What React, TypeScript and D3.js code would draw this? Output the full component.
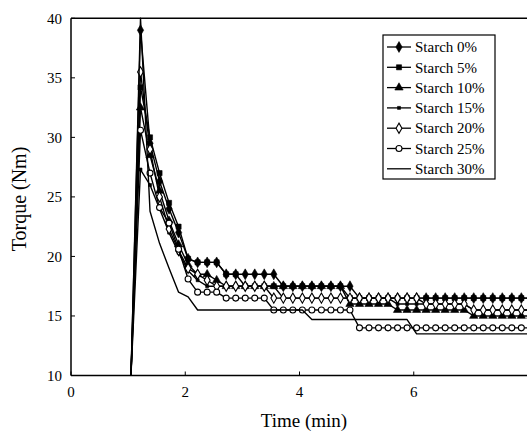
import React from "react";
import * as d3 from "d3";

const W = 527;
const H = 431;

// sampling times (s) — every 10 s from the start of loading
const TIME_S = [63, 73, 83, 93, 103, 113, 123, 133, 143, 153, 163, 173, 183, 193, 203, 213, 223, 233, 243, 253, 263, 273, 283, 293, 303, 313, 323, 333, 343, 353, 363, 373, 383, 393, 403, 413, 423, 433, 443, 453, 463, 473, 483];

const S0 = [10, 39, 29.5, 26.3, 24, 22, 19.8, 19.5, 19.5, 19.5, 18.5, 18.5, 18.5, 18.5, 18.5, 18.5, 17.5, 17.5, 17.5, 17.5, 17.5, 17.5, 17.5, 17.5, 16.5, 16.5, 16.5, 16.5, 16.5, 16.5, 16.5, 16.5, 16.5, 16.5, 16.5, 16.5, 16.5, 16.5, 16.5, 16.5, 16.5, 16.5, 16.5];
const S5 = [10, 34.2, 30.0, 27.0, 24.5, 22.5, 19.8, 19.5, 19.5, 19.5, 18.5, 18.5, 17.5, 17.5, 17.5, 17.5, 17.5, 17.5, 17.5, 17.5, 17.5, 17.5, 17.5, 16.5, 16.5, 16.5, 16.5, 16.5, 16.5, 16.5, 16.5, 16.5, 16.5, 16.5, 16.5, 16.5, 16.5, 16.5, 16.5, 16.5, 16.5, 16.5, 16.5];
const S10 = [10, 32.5, 28.5, 25.5, 23.0, 21.0, 19.3, 18.5, 18.5, 18.0, 17.5, 17.5, 17.5, 17.5, 17.5, 17.5, 17.5, 17.5, 17.5, 17.5, 17.5, 17.5, 17.5, 16.0, 16.0, 16.0, 16.0, 16.0, 15.5, 15.5, 15.5, 15.5, 15.5, 15.5, 15.5, 15.5, 15.0, 15.0, 15.0, 15.0, 15.0, 15.0, 15.0];
const S15 = [10, 27.3, 26.0, 24.0, 22.0, 20.3, 18.8, 18.0, 17.5, 17.5, 17.5, 17.5, 17.5, 17.5, 17.5, 17.5, 16.5, 16.5, 16.5, 16.5, 16.5, 16.5, 16.5, 16.5, 16.5, 16.5, 16.5, 16.5, 16.0, 16.0, 16.0, 16.0, 16.0, 16.0, 16.0, 16.0, 15.5, 15.5, 15.5, 15.5, 15.5, 15.5, 15.5];
const S20 = [10, 35.5, 29.0, 25.0, 22.3, 20.5, 19.0, 18.5, 18.0, 17.5, 17.5, 17.5, 17.5, 17.5, 17.5, 16.5, 16.5, 16.5, 16.5, 16.5, 16.5, 16.5, 16.5, 16.5, 16.5, 16.5, 16.5, 16.5, 16.5, 16.5, 16.5, 16.0, 16.0, 16.0, 16.0, 16.0, 15.5, 15.5, 15.5, 15.5, 15.5, 15.5, 15.5];
const S25 = [10, 30.6, 27.0, 24.1, 22.8, 20.6, 18.1, 17.0, 17.0, 17.0, 16.5, 16.5, 16.5, 16.5, 16.5, 15.5, 15.5, 15.5, 15.5, 15.5, 15.5, 15.5, 15.5, 15.5, 14.0, 14.0, 14.0, 14.0, 14.0, 14.0, 14.0, 14.0, 14.0, 14.0, 14.0, 14.0, 14.0, 14.0, 14.0, 14.0, 14.0, 14.0, 14.0];
const S30 = [10, 40, 23.8, 21.1, 19.0, 17.0, 16.6, 15.5, 15.5, 15.5, 15.5, 15.5, 15.5, 15.5, 15.5, 15.5, 15.5, 15.5, 15.5, 14.7, 14.7, 14.7, 14.7, 14.7, 14.7, 14.7, 14.7, 14.7, 14.7, 14.7, 13.5, 13.5, 13.5, 13.5, 13.5, 13.5, 13.5, 13.5, 13.5, 13.5, 13.5, 13.5, 13.5];

const SERIES_NAMES = ["Starch 0%", "Starch 5%", "Starch 10%", "Starch 15%", "Starch 20%", "Starch 25%", "Starch 30%"];
const SERIES_VALUES = [S0, S5, S10, S15, S20, S25, S30];
const MARKERS = ["diamond", "square", "triangle", "dot", "odiamond", "ocircle", "none"];

const X_TICKS = [0, 2, 4, 6, 8];
const X_TICK_LABELS = ["0", "2", "4", "6", ""];
const Y_TICKS = [10, 15, 20, 25, 30, 35, 40];

const FONT = "Liberation Serif, Times New Roman, serif";

function Marker({ kind, cx, cy }: { kind: string; cx: number; cy: number }) {
  if (kind === "none") return null;
  if (kind === "ocircle") {
    return <circle cx={cx} cy={cy} r={3} fill="#fff" stroke="#000" strokeWidth={1.1} />;
  }
  let type: any = d3.symbolDiamond;
  let size = 34;
  let fill = "#000";
  if (kind === "square") { type = d3.symbolSquare; size = 26; }
  if (kind === "triangle") { type = d3.symbolTriangle; size = 30; }
  if (kind === "dot") { type = d3.symbolSquare; size = 9; }
  if (kind === "odiamond") { type = d3.symbolDiamond; size = 30; fill = "#fff"; }
  const d = d3.symbol().type(type).size(size)() || "";
  return (
    <path d={d} transform={`translate(${cx},${cy})`} fill={fill} stroke="#000" strokeWidth={kind === "odiamond" ? 1.1 : 0.6} />
  );
}

export default function App() {
  const x = d3.scaleLinear().domain([0, 8]).range([71, 528]);
  const y = d3.scaleLinear().domain([10, 40]).range([375.5, 18.3]);
  const times = TIME_S.map((s) => s / 60);

  const line = d3
    .line<number>()
    .x((_, i) => x(times[i]))
    .y((v) => y(v));

  const legendX = 383;
  const legendY = 35;
  const legendStep = 20.3;

  return (
    <svg width={W} height={H} style={{ position: "absolute", left: 0, top: 0, background: "#fff" }}>
      <defs>
        <clipPath id="plot">
          <rect x={71} y={12} width={W - 71} height={375.5 - 12} />
        </clipPath>
      </defs>
      <rect x={0} y={0} width={W} height={H} fill="#fff" />

      {/* series */}
      <g clipPath="url(#plot)">
        {SERIES_VALUES.map((vals, si) => (
          <g key={si}>
            <path d={line(vals) || ""} fill="none" stroke="#000" strokeWidth={1.4} strokeLinejoin="round" />
            {vals.map((v, i) =>
              i === 0 ? null : <Marker key={i} kind={MARKERS[si]} cx={x(times[i])} cy={y(v)} />
            )}
          </g>
        ))}
      </g>

      {/* axes frame */}
      <line x1={71} y1={y(10)} x2={W} y2={y(10)} stroke="#000" strokeWidth={1.5} />
      <line x1={71} y1={y(40)} x2={W} y2={y(40)} stroke="#000" strokeWidth={1.5} />
      <line x1={71} y1={y(10)} x2={71} y2={y(40)} stroke="#000" strokeWidth={1.5} />

      {Y_TICKS.map((t) => (
        <g key={t}>
          <line x1={71} x2={75} y1={y(t)} y2={y(t)} stroke="#000" strokeWidth={1} />
          <text x={62} y={y(t)} dy="0.35em" textAnchor="end" fontFamily={FONT} fontSize={15} fill="#000">
            {t}
          </text>
        </g>
      ))}
      {X_TICKS.map((t, i) => (
        <g key={t}>
          <line x1={x(t)} x2={x(t)} y1={y(10)} y2={y(10) - 4} stroke="#000" strokeWidth={1} />
          {X_TICK_LABELS[i] ? (
            <text x={x(t)} y={392} dy="0.35em" textAnchor="middle" fontFamily={FONT} fontSize={15} fill="#000">
              {X_TICK_LABELS[i]}
            </text>
          ) : null}
        </g>
      ))}

      <text x={304} y={420} dy="0.35em" textAnchor="middle" fontFamily={FONT} fontSize={19} fill="#000">
        Time (min)
      </text>
      <text
        transform={`translate(19,199) rotate(-90)`}
        dy="0.35em"
        textAnchor="middle"
        fontFamily={FONT}
        fontSize={20}
        fill="#000"
      >
        Torque (Nm)
      </text>

      {/* legend */}
      <rect x={legendX} y={legendY} width={112} height={144} fill="#fff" stroke="#000" strokeWidth={1.2} />
      {SERIES_NAMES.map((name, i) => {
        const cy = legendY + 12 + i * legendStep;
        return (
          <g key={name}>
            <line x1={387} x2={411} y1={cy} y2={cy} stroke="#000" strokeWidth={1.3} />
            <Marker kind={MARKERS[i]} cx={399} cy={cy} />
            <text x={415} y={cy} dy="0.35em" fontFamily={FONT} fontSize={15} fill="#000">
              {name}
            </text>
          </g>
        );
      })}
    </svg>
  );
}
